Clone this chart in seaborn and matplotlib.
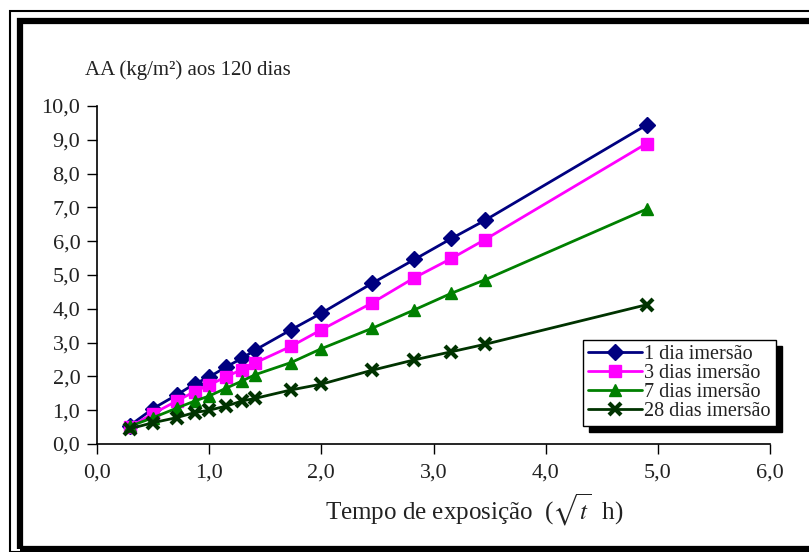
import numpy as np
import pandas as pd
import matplotlib.pyplot as plt
from matplotlib.patches import Rectangle
from matplotlib.lines import Line2D
import seaborn as sns

# sqrt of exposure time (h)
tempo = [0.29, 0.50, 0.71, 0.87, 1.00, 1.15, 1.29, 1.41, 1.73, 2.00, 2.45, 2.83, 3.16, 3.46, 4.90]

aa_1dia = [0.54, 1.05, 1.45, 1.78, 1.98, 2.28, 2.53, 2.78, 3.38, 3.87, 4.75, 5.46, 6.08, 6.62, 9.44]
aa_3dias = [0.50, 0.90, 1.27, 1.55, 1.74, 1.99, 2.20, 2.40, 2.89, 3.38, 4.17, 4.92, 5.49, 6.05, 8.89]
aa_7dias = [0.52, 0.78, 1.06, 1.27, 1.42, 1.65, 1.86, 2.05, 2.41, 2.82, 3.42, 3.97, 4.46, 4.86, 6.95]
aa_28dias = [0.45, 0.63, 0.78, 0.93, 1.00, 1.12, 1.27, 1.35, 1.60, 1.77, 2.18, 2.49, 2.73, 2.95, 4.12]

labels = ["1 dia imersão", "3 dias imersão", "7 dias imersão", "28 dias imersão"]
series = [aa_1dia, aa_3dias, aa_7dias, aa_28dias]
colors = ["#000080", "#ff00ff", "#008000", "#003300"]
markers = ["D", "s", "^", "x"]
msizes = [8, 9, 9, 9]
mews = [1, 1, 1, 3]

sns.set_theme(style="white")
plt.rcParams["font.family"] = ["Liberation Serif", "DejaVu Serif"]
plt.rcParams["mathtext.fontset"] = "stix"

fig = plt.figure(figsize=(8.09, 5.52), dpi=100)
ax = fig.add_axes([97 / 809, 1 - 444 / 552, 673 / 809, 338 / 552])

for y, lab, c, m, ms, mw in zip(series, labels, colors, markers, msizes, mews):
    df = pd.DataFrame({"x": tempo, "y": y})
    sns.lineplot(data=df, x="x", y="y", ax=ax, color=c, marker=m, markersize=ms,
                 markeredgecolor=c, markeredgewidth=mw, linewidth=2, label=lab, sort=False)

ax.set_xlim(0, 6)
ax.set_ylim(0, 10)
ax.set_xticks(np.arange(0, 6.1, 1))
ax.set_yticks(np.arange(0, 10.1, 1))
ax.set_xticklabels([f"{v:.1f}".replace(".", ",") for v in np.arange(0, 6.1, 1)])
ax.set_yticklabels([f"{v:.1f}".replace(".", ",") for v in np.arange(0, 10.1, 1)])
ax.tick_params(axis="both", direction="out", length=7, width=1, color="black",
               labelsize=16, labelcolor="#222222", left=True, bottom=True)
ax.tick_params(axis="x", pad=7)
ax.tick_params(axis="y", pad=5)
for s in ["top", "right"]:
    ax.spines[s].set_visible(False)
for s in ["left", "bottom"]:
    ax.spines[s].set_color("black")
    ax.spines[s].set_linewidth(1.2)

ax.set_xlabel("")
ax.set_ylabel("")
fig.text(85 / 809, 1 - 70 / 552, "AA (kg/m²) aos 120 dias", fontsize=15,
         color="#222222", va="center", ha="left")
fig.text(325 / 809, 1 - 510 / 552, r"Tempo de exposição  ($\sqrt{t}$  h)", fontsize=18,
         color="#222222", va="center", ha="left")

handles = [Line2D([], [], color=c, marker=m, markersize=ms, markeredgewidth=mw,
                  linewidth=2) for c, m, ms, mw in zip(colors, markers, msizes, mews)]
leg = ax.legend(handles, labels, loc="upper left",
                bbox_to_anchor=(583 / 809, 1 - 340 / 552), bbox_transform=fig.transFigure,
                borderaxespad=0, fontsize=14.5, frameon=True, fancybox=False,
                framealpha=1, edgecolor="black", handlelength=2.7, handletextpad=0.1,
                labelspacing=0.0, borderpad=0.25,
                shadow={"ox": 4, "oy": -4, "color": "black", "alpha": 1})
leg.get_frame().set_linewidth(1)
for t in leg.get_texts():
    t.set_color("#222222")

# frame around the figure
fig.patches.append(Rectangle((10 / 809, 0), 1, 1 - 11 / 552, transform=fig.transFigure,
                             fill=False, edgecolor="black", linewidth=1.5))
fig.patches.append(Rectangle((20 / 809, 3 / 552), 1, 1 - 24 / 552, transform=fig.transFigure,
                             fill=False, edgecolor="black", linewidth=4.5))

fig.savefig("out.png", dpi=100)
